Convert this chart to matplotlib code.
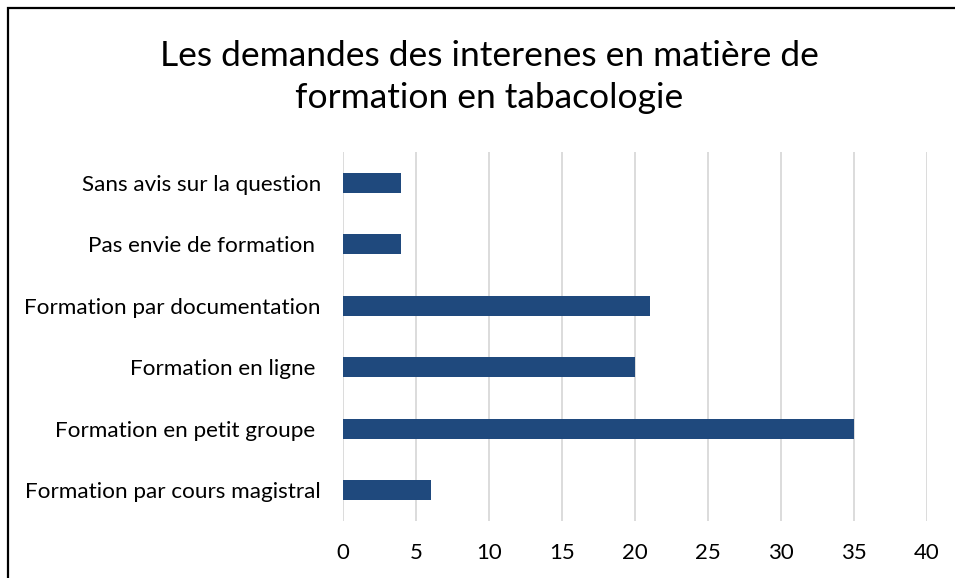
import matplotlib
matplotlib.use("Agg")
import matplotlib.pyplot as plt
from matplotlib.patches import Rectangle

categories = ["Formation par cours magistral", "Formation en petit groupe ",
              "Formation en ligne ", "Formation par documentation",
              "Pas envie de formation ", "Sans avis sur la question"]
values = [6, 35, 20, 21, 4, 4]
xticks = [0, 5, 10, 15, 20, 25, 30, 35, 40]
title = "Les demandes des interenes en matière de\nformation en tabacologie"

plt.rcParams['font.family'] = ['Lato', 'DejaVu Sans']

fig = plt.figure(figsize=(9.55, 5.78), dpi=100)
ax = fig.add_axes([343/955, 1-521/578, (927-343)/955, (521-152)/578])

ax.barh(range(len(categories)), values, height=0.33, color="#1F497D", zorder=3)
ax.set_ylim(-0.5, len(categories)-0.5)
ax.set_xlim(0, 40)
ax.set_xticks(xticks)
ax.set_xticklabels([str(t) for t in xticks], fontsize=16)
ax.set_yticks(range(len(categories)))
ax.set_yticklabels(categories, fontsize=16.2)
ax.tick_params(axis='both', length=0)
ax.tick_params(axis='x', pad=16)
ax.tick_params(axis='y', pad=16)
ax.grid(axis='x', color="#D9D9D9", linewidth=1.3, zorder=0)
for s in ax.spines.values():
    s.set_visible(False)

fig.text(489/955, 1-77/578, title, ha='center', va='center', fontsize=25.5,
         linespacing=1.42)

fig.patches.append(Rectangle((8/955, -0.1), 1.2, 1-8/578+0.1, transform=fig.transFigure,
                             fill=False, edgecolor='black', linewidth=1.6))

fig.savefig("out.png", dpi=100)
